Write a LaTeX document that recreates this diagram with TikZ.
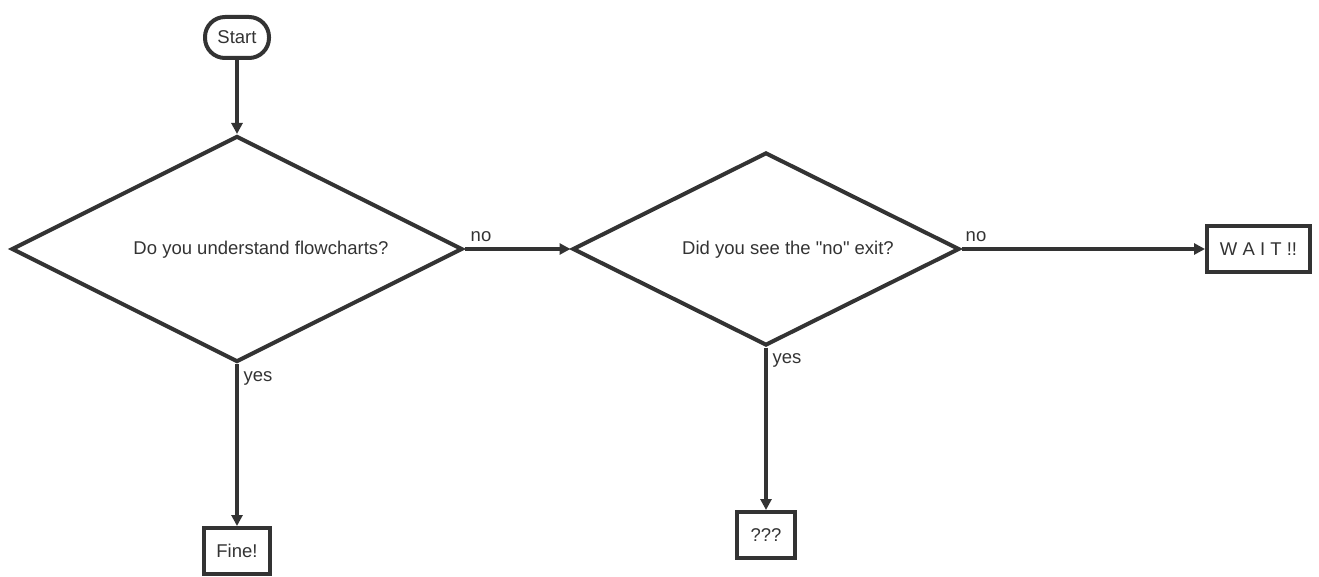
\documentclass[tikz,border=0pt]{standalone}
\usepackage{fontspec}
\setmainfont{Liberation Sans}
\usetikzlibrary{shapes.geometric,arrows.meta}
\definecolor{ink}{HTML}{333333}
\tikzset{
  shp/.style={draw=ink, line width=4pt, text=ink, inner sep=0pt, font=\fontsize{18.5}{22}\selectfont},
  boxnode/.style={shp, rectangle, minimum height=46pt},
  dia/.style={shp, diamond, aspect=2},
  lbl/.style={text=ink, inner sep=0pt, font=\fontsize{18.5}{22}\selectfont},
  conn/.style={draw=ink, line width=3.5pt, -{Triangle[length=11pt,width=11pt]}},
}
\begin{document}
\begin{tikzpicture}[x=1pt,y=-1pt]
\useasboundingbox (0,0) rectangle (1319,577);
\node[shp, rectangle, rounded corners=20pt, minimum width=64pt, minimum height=41pt] (start) at (237,37.5) {Start};
\node[dia, minimum width=451pt, minimum height=226pt] (d1) at (237,249) {};
\node[lbl] (t1) at (261,250) {Do you understand flowcharts?};
\node[dia, minimum width=387pt, minimum height=193pt] (d2) at (766,249) {};
\node[lbl] (t2) at (788,250) {Did you see the \textquotedbl no\textquotedbl{} exit?};
\node[boxnode, minimum width=103pt] (wait) at (1258.5,249) {W A I T !!};
\node[boxnode, minimum width=66pt] (fine) at (237,551) {Fine!};
\node[boxnode, minimum width=58pt] (qqq) at (766,535) {???};
\draw[conn] (start) -- (d1.north);
\draw[conn] (d1.east) -- (d2.west);
\draw[conn] (d2.east) -- (wait.west);
\draw[conn] (d1.south) -- (fine.north);
\draw[conn] (d2.south) -- (qqq.north);
\node[lbl] (no1) at (481,237) {no};
\node[lbl] (no2) at (976,237) {no};
\node[lbl] (yes1) at (258,378) {yes};
\node[lbl] (yes2) at (787,360) {yes};
\end{tikzpicture}
\end{document}
